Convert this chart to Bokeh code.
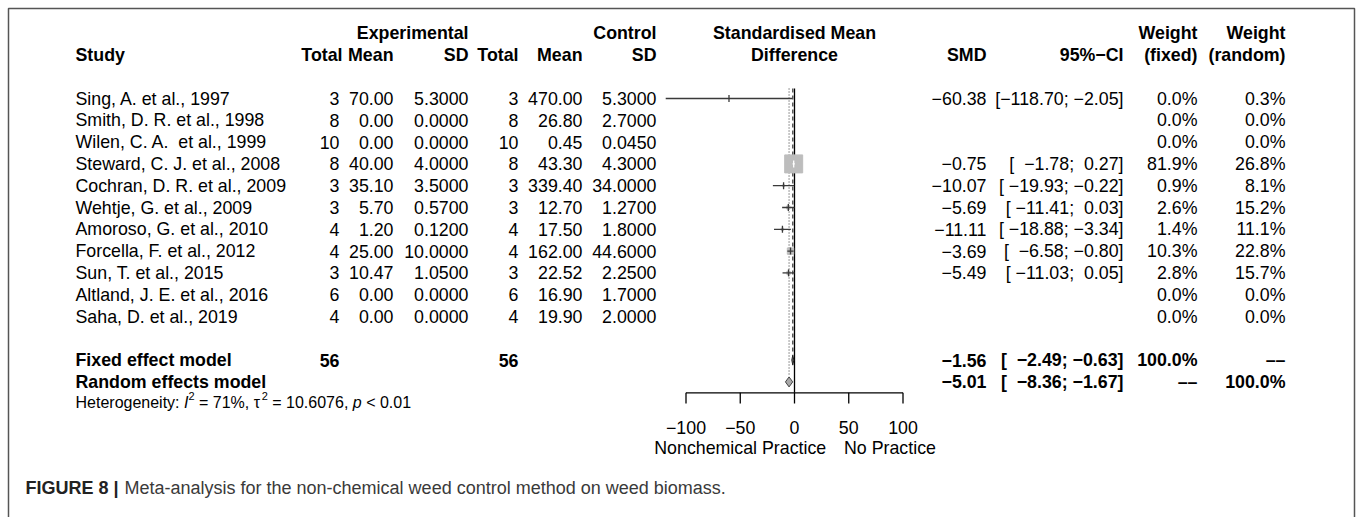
import math
from bokeh.plotting import figure
from bokeh.models import Range1d
from bokeh.core.properties import value
from bokeh.embed import file_html
from bokeh.resources import INLINE

# ---------------- data ----------------
studies = ["Sing, A. et al., 1997", "Smith, D. R. et al., 1998", "Wilen, C. A.\u00a0 et al., 1999",
           "Steward, C. J. et al., 2008", "Cochran, D. R. et al., 2009", "Wehtje, G. et al., 2009",
           "Amoroso, G. et al., 2010", "Forcella, F. et al., 2012", "Sun, T. et al., 2015",
           "Altland, J. E. et al., 2016", "Saha, D. et al., 2019"]
exp_total = [3, 8, 10, 8, 3, 3, 4, 4, 3, 6, 4]
exp_mean = [70.00, 0.00, 0.00, 40.00, 35.10, 5.70, 1.20, 25.00, 10.47, 0.00, 0.00]
exp_sd = [5.3, 0.0, 0.0, 4.0, 3.5, 0.57, 0.12, 10.0, 1.05, 0.0, 0.0]
ctrl_total = [3, 8, 10, 8, 3, 3, 4, 4, 3, 6, 4]
ctrl_mean = [470.00, 26.80, 0.45, 43.30, 339.40, 12.70, 17.50, 162.00, 22.52, 16.90, 19.90]
ctrl_sd = [5.3, 2.7, 0.045, 4.3, 34.0, 1.27, 1.8, 44.6, 2.25, 1.7, 2.0]
smd = [-60.38, None, None, -0.75, -10.07, -5.69, -11.11, -3.69, -5.49, None, None]
ci_lo = [-118.70, None, None, -1.78, -19.93, -11.41, -18.88, -6.58, -11.03, None, None]
ci_hi = [-2.05, None, None, 0.27, -0.22, 0.03, -3.34, -0.80, 0.05, None, None]
w_fixed = [0.0, 0.0, 0.0, 81.9, 0.9, 2.6, 1.4, 10.3, 2.8, 0.0, 0.0]
w_random = [0.3, 0.0, 0.0, 26.8, 8.1, 15.2, 11.1, 22.8, 15.7, 0.0, 0.0]

total_exp = 56
total_ctrl = 56
fixed_est, fixed_lo, fixed_hi = -1.56, -2.49, -0.63
random_est, random_lo, random_hi = -5.01, -8.36, -1.67
axis_ticks = [-100, -50, 0, 50, 100]
label_left = "Nonchemical Practice"
label_right = "No Practice"
caption_bold = "FIGURE 8 |"
caption_text = "Meta-analysis for the non-chemical weed control method on weed biomass."

# ---------------- layout helpers ----------------
W, H = 1357, 517
ROW0, ROWH = 98.0, 21.8
def py(px):
    return (px - ROW0) / ROWH

ZERO_PX, PX_PER_UNIT = 794.0, 1.085
FONT = value("Liberation Sans")
FS = "17.8px"

p = figure(width=W, height=H, output_backend="svg", toolbar_location=None,
           x_range=Range1d(0, W), y_range=Range1d(py(H), py(0)),
           x_axis_type=None, y_axis_type=None, min_border=0,
           min_border_left=0, min_border_right=0, min_border_top=0, min_border_bottom=0,
           outline_line_color=None, background_fill_color="white", border_fill_color="white")
p.extra_x_ranges = {"smd": Range1d(-ZERO_PX / PX_PER_UNIT, (W - ZERO_PX) / PX_PER_UNIT)}

def T(xs, ys, texts, align="right", style="normal", size=FS, color="black", rng="default"):
    p.text(x=list(xs), y=list(ys), text=list(texts), text_align=align, text_baseline="middle",
           text_font=FONT, text_font_size=size, text_font_style=style, text_color=color,
           x_range_name=rng)

def mn(v, fmt):
    s = format(v, fmt)
    return s.replace("-", "\u2212")

def ci_str(lo, hi):
    a = mn(lo, ".2f")
    b = mn(hi, ".2f")
    return "[" + "\u00a0" * (7 - len(a)) + a + ";\u00a0" + "\u00a0" * (5 - len(b)) + b + "]"

n = len(studies)
rows = list(range(n))

# frame
p.line(x=[8, 8, 1354, 1354], y=[py(H + 5), py(8), py(8), py(H + 5)], line_color="#555555", line_width=1.5)

# headers
T([468], [-3], ["Experimental"], style="bold")
T([656], [-3], ["Control"], style="bold")
T([0], [-3], ["Standardised Mean"], align="center", style="bold", rng="smd")
T([0], [-2], ["Difference"], align="center", style="bold", rng="smd")
T([1197, 1285], [-3, -3], ["Weight", "Weight"], style="bold")
T([75], [-2], ["Study"], align="left", style="bold")
T([342, 393, 468, 518, 582, 656, 986, 1123, 1197, 1285], [-2] * 10,
  ["Total", "Mean", "SD", "Total", "Mean", "SD", "SMD", "95%\u2212CI", "(fixed)", "(random)"], style="bold")

# study rows
T([75] * n, rows, studies, align="left")
T([339] * n, rows, [str(v) for v in exp_total])
T([393] * n, rows, [mn(v, ".2f") for v in exp_mean])
T([468] * n, rows, [mn(v, ".4f") for v in exp_sd])
T([518] * n, rows, [str(v) for v in ctrl_total])
T([582] * n, rows, [mn(v, ".2f") for v in ctrl_mean])
T([656] * n, rows, [mn(v, ".4f") for v in ctrl_sd])
have = [i for i in rows if smd[i] is not None]
T([986] * len(have), have, [mn(smd[i], ".2f") for i in have])
T([1123] * len(have), have, [ci_str(ci_lo[i], ci_hi[i]) for i in have])
T([1197] * n, rows, [f"{v:.1f}%" for v in w_fixed])
T([1285] * n, rows, [f"{v:.1f}%" for v in w_random])

# summary rows
T([75, 75], [12, 13], ["Fixed effect model", "Random effects model"], align="left", style="bold")
T([339, 518], [12, 12], [str(total_exp), str(total_ctrl)], style="bold")
T([986, 986], [12, 13], [mn(fixed_est, ".2f"), mn(random_est, ".2f")], style="bold")
T([1123, 1123], [12, 13], [ci_str(fixed_lo, fixed_hi), ci_str(random_lo, random_hi)], style="bold")
T([1197, 1285], [12, 12], ["100.0%", "\u2013\u2013"], style="bold")
T([1197, 1285], [13, 13], ["\u2013\u2013", "100.0%"], style="bold")

# heterogeneity line (pieces for italics / superscripts)
AW = {' ': 278, ':': 278, ',': 278, '.': 278, '%': 889, '=': 584, '<': 584, 'H': 722, 'e': 556,
      't': 278, 'r': 333, 'o': 556, 'g': 556, 'n': 556, 'i': 222, 'y': 500, 'I': 278, 'p': 556,
      '\u03c4': 500}
def tw(s, size):
    return sum(AW.get(c, 556) for c in s) / 1000.0 * size
HS, SS = 16.0, 11.0
yh = py(402)
pieces = [("Heterogeneity:", "normal", HS, 0, True), ("I", "italic", HS, 0, False),
          ("2", "normal", SS, -0.3, True), ("= 71%, \u03c4", "normal", HS, 0, False),
          ("2", "normal", SS, -0.3, True), ("= 10.6076,", "normal", HS, 0, True),
          ("p", "italic", HS, 0, True), ("< 0.01", "normal", HS, 0, False)]
x = 75.0
for txt, sty, sz, dy, sp in pieces:
    T([x], [yh + dy], [txt], align="left", style=sty, size=f"{sz}px")
    x += tw(txt, sz) + (tw(" ", HS) if sp else 0)

# ---------------- forest plot ----------------
top = py(88)
p.segment(x0=[0], x1=[0], y0=[top], y1=[13.5], x_range_name="smd", line_color="black", line_width=1.3)
p.segment(x0=[fixed_est], x1=[fixed_est], y0=[top], y1=[11.75], x_range_name="smd",
          line_color="#333333", line_width=1.2, line_dash="4 3")
p.segment(x0=[random_est], x1=[random_est], y0=[top], y1=[12.75], x_range_name="smd",
          line_color="#555555", line_width=1.2, line_dash="1 2")

wmax = max(w_fixed)
sizes = [18.0 * math.sqrt(w_fixed[i] / wmax) for i in have]
line_cols = []
for k, i in enumerate(have):
    inside = (ci_hi[i] - ci_lo[i]) * PX_PER_UNIT < sizes[k] - 1
    line_cols.append("white" if inside else "#3a3a3a")
p.scatter(x=[smd[i] for i in have], y=have, size=sizes, marker="square", x_range_name="smd",
          fill_color="#bdbdbd", line_color="#bdbdbd")
p.segment(x0=[ci_lo[i] for i in have], x1=[ci_hi[i] for i in have], y0=have, y1=have,
          x_range_name="smd", line_color=line_cols, line_width=1.3)
p.scatter(x=[smd[i] for i in have], y=have, size=7, marker="dash", angle=math.pi / 2,
          x_range_name="smd", line_color=line_cols, line_width=1.3)

dh = 0.23
p.patch(x=[fixed_lo, fixed_est, fixed_hi, fixed_est], y=[12, 12 - dh, 12, 12 + dh], x_range_name="smd",
        fill_color="#707070", line_color="#222222", line_width=1)
p.patch(x=[random_lo, random_est, random_hi, random_est], y=[13, 13 - dh, 13, 13 + dh], x_range_name="smd",
        fill_color="#a8a8a8", line_color="#444444", line_width=1)

# axis
ya = 13.5
p.segment(x0=[axis_ticks[0]], x1=[axis_ticks[-1]], y0=[ya], y1=[ya], x_range_name="smd",
          line_color="black", line_width=1.3)
p.segment(x0=axis_ticks, x1=axis_ticks, y0=[ya] * len(axis_ticks), y1=[py(403)] * len(axis_ticks),
          x_range_name="smd", line_color="black", line_width=1.3)
T(axis_ticks, [py(427)] * len(axis_ticks), [mn(t, "d") for t in axis_ticks], align="center", rng="smd")
T([-50], [py(447)], [label_left], align="center", rng="smd")
T([88], [py(447)], [label_right], align="center", rng="smd")

# caption
T([25], [py(487)], [caption_bold], align="left", style="bold", size="18px", color="#222222")
T([124], [py(487)], [caption_text], align="left", size="18px", color="#3a3a3a")

open("out.html", "w").write(file_html(p, INLINE))
